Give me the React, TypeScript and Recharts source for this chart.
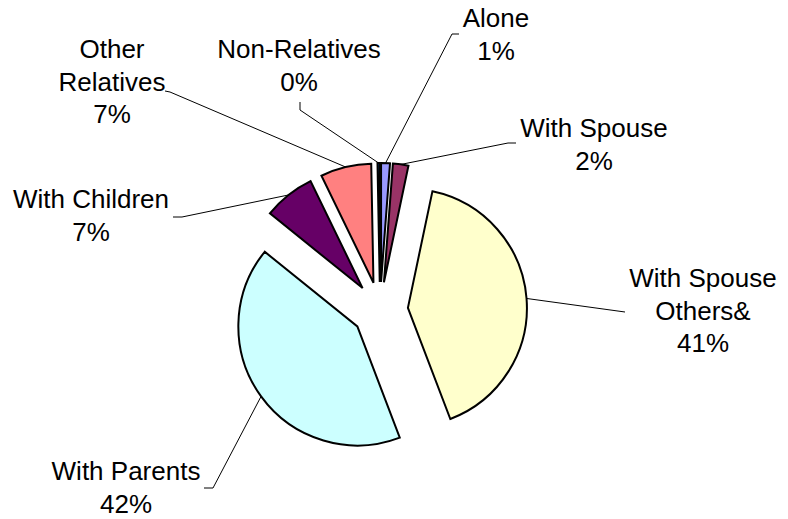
import { Cell, Pie, PieChart, Sector } from 'recharts';

const categories = [
  'Alone',
  'With Spouse',
  'With Spouse Others&',
  'With Parents',
  'With Children',
  'Other Relatives',
  'Non-Relatives',
];
const shares = [1.2, 2.1, 40.9, 41.6, 7.0, 6.9, 0.3];
const colors = ['#9999FF', '#993366', '#FFFFCC', '#CCFFFF', '#660066', '#FF8080', '#0066CC'];

// where each label sits (text centre, first baseline), how many words go on
// the first line, and the bend points of its leader line
const labelLayout = [
  { x: 496, y: 27, split: 0, leader: [[452, 34], [459, 34]] },
  { x: 594, y: 137, split: 0, leader: [[508, 143], [516, 143]] },
  { x: 703, y: 287, split: 2, leader: [[625, 312]] },
  { x: 126, y: 480, split: 0, leader: [[213, 488], [204, 488]] },
  { x: 91, y: 208, split: 0, leader: [[182, 217], [173, 217]] },
  { x: 112, y: 58, split: 1, leader: [[170, 92], [165, 91]] },
  { x: 299, y: 58, split: 0, leader: [[300, 110], [300, 102]] },
];

const RAD = Math.PI / 180;
const EXPLODE = 28;
const LINE_GAP = 32.5;
const FONT = '"Liberation Sans", Arial, sans-serif';

const data = categories.map((name, i) => ({ name, value: shares[i] }));

// push every slice out along its mid angle (Excel-style exploded pie)
const renderSlice = (props: any) => {
  const { cx, cy, midAngle } = props;
  const dx = EXPLODE * Math.cos(-midAngle * RAD);
  const dy = EXPLODE * Math.sin(-midAngle * RAD);
  return <Sector {...props} cx={cx + dx} cy={cy + dy} />;
};

const renderLabel = (props: any) => {
  const { cx, cy, midAngle, outerRadius, index, name, percent } = props;
  const lay = labelLayout[index];
  const a = -midAngle * RAD;
  const sx = cx + (outerRadius + EXPLODE) * Math.cos(a);
  const sy = cy + (outerRadius + EXPLODE) * Math.sin(a);
  const pts = [[sx, sy], ...lay.leader];

  const words = String(name).split(' ');
  const lines = lay.split
    ? [words.slice(0, lay.split).join(' '), words.slice(lay.split).join(' ')]
    : [String(name)];
  lines.push(`${Math.round(percent * 100)}%`);

  return (
    <g key={`label-${index}`}>
      <polyline
        points={pts.map((p) => p.join(',')).join(' ')}
        fill="none"
        stroke="#000"
        strokeWidth={1}
      />
      <text
        x={lay.x}
        y={lay.y}
        textAnchor="middle"
        fontSize={26}
        fontFamily={FONT}
        fill="#000"
      >
        {lines.map((line, i) => (
          <tspan key={i} x={lay.x} dy={i === 0 ? 0 : LINE_GAP}>
            {line}
          </tspan>
        ))}
      </text>
    </g>
  );
};

export default function App() {
  return (
    <div
      style={{
        position: 'absolute',
        left: 0,
        top: 0,
        width: 788,
        height: 519,
        background: '#fff',
      }}
    >
      <PieChart width={788} height={519} margin={{ top: 0, right: 0, bottom: 0, left: 0 }}>
        <Pie
          data={data}
          dataKey="value"
          nameKey="name"
          cx={380}
          cy={310}
          outerRadius={119}
          startAngle={90}
          endAngle={-270}
          stroke="#000"
          strokeWidth={2}
          shape={renderSlice}
          label={renderLabel}
          labelLine={false}
          isAnimationActive={false}
        >
          {data.map((entry, i) => (
            <Cell key={`cell-${i}`} fill={colors[i]} />
          ))}
        </Pie>
      </PieChart>
    </div>
  );
}
